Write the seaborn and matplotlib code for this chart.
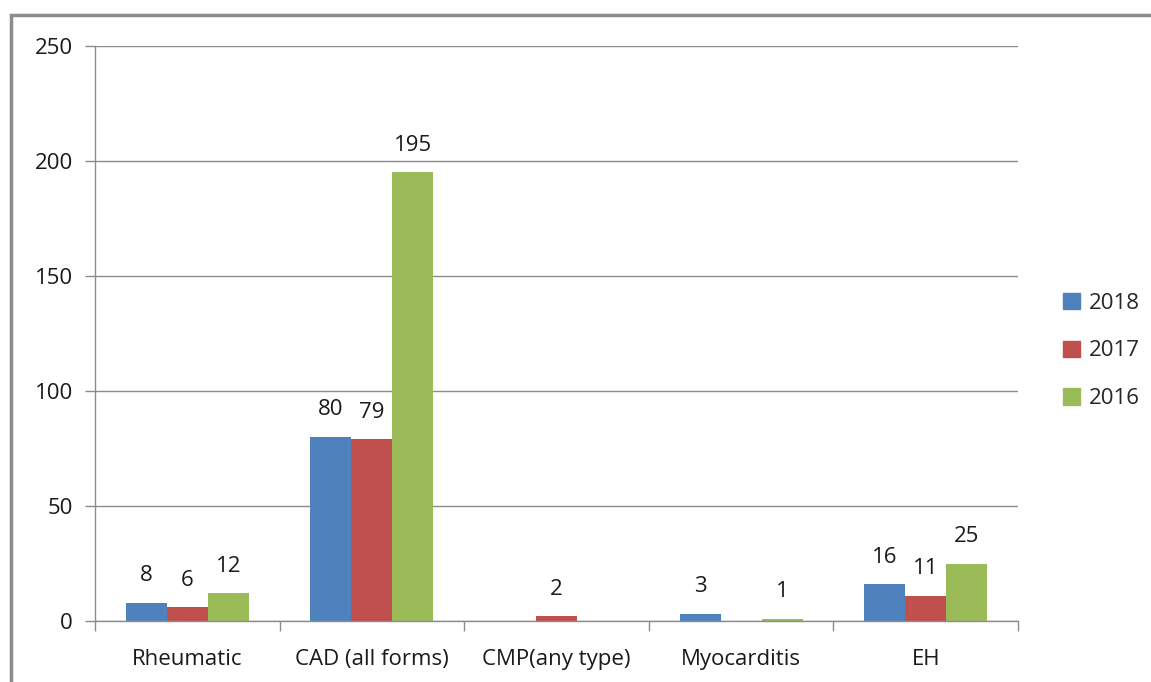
import matplotlib
matplotlib.use('Agg')
import matplotlib.pyplot as plt
import matplotlib.patches as mpatches
import pandas as pd
import seaborn as sns

# data
categories = ['Rheumatic', 'CAD (all forms)', 'CMP(any type)', 'Myocarditis', 'EH']
years = ['2018', '2017', '2016']
values_2018 = [8, 80, 0, 3, 16]
values_2017 = [6, 79, 2, 0, 11]
values_2016 = [12, 195, 0, 1, 25]
colors = ['#4F81BD', '#C0504D', '#9BBB59']

sns.set_style('white')
plt.rcParams['font.family'] = ['Open Sans', 'DejaVu Sans']

df = pd.DataFrame({
    'category': categories * 3,
    'year': [y for y in years for _ in categories],
    'value': values_2018 + values_2017 + values_2016,
})

fig = plt.figure(figsize=(11.51, 6.82), dpi=100)
ax = fig.add_axes([95 / 1151, 1 - 621 / 682, 923 / 1151, 575 / 682])

sns.barplot(data=df, x='category', y='value', hue='year', order=categories,
            hue_order=years, palette=colors, width=0.667, gap=0, saturation=1,
            errorbar=None, ax=ax, legend=False, linewidth=0)

for container in ax.containers:
    labels = [f'{int(v)}' if v > 0 else '' for v in container.datavalues]
    ax.bar_label(container, labels=labels, padding=12, fontsize=16, color='#1a1a1a')

ax.set_ylim(0, 250)
ax.set_xlim(-0.5, 4.5)
ax.set_yticks(range(0, 251, 50))
ax.yaxis.grid(True, color='#8c8c8c', linewidth=1)
ax.set_axisbelow(True)
ax.set_xlabel('')
ax.set_ylabel('')

for side in ['top', 'right']:
    ax.spines[side].set_visible(False)
for side in ['left', 'bottom']:
    ax.spines[side].set_color('#8c8c8c')
    ax.spines[side].set_linewidth(1)

ax.tick_params(axis='y', which='major', left=True, length=7, width=1, color='#8c8c8c',
               labelsize=16, pad=9)
ax.tick_params(axis='x', which='major', length=0, labelsize=16, pad=20)
ax.set_xticks([i - 0.5 for i in range(6)], minor=True)
ax.tick_params(axis='x', which='minor', bottom=True, length=7, width=1, color='#8c8c8c')
for t in ax.get_xticklabels() + ax.get_yticklabels():
    t.set_color('#1a1a1a')

handles = [mpatches.Patch(color=c, label=y) for c, y in zip(colors, years)]
fig.legend(handles=handles, loc='center left', bbox_to_anchor=(1043 / 1151, 1 - 351 / 682),
           frameon=False, fontsize=16, handlelength=0.75, handleheight=0.75,
           handletextpad=0.4, labelspacing=1.2)

# outer chart frame (only left and top edges visible in the crop)
frame = mpatches.Rectangle((11 / 1151, -0.1), 1.2, 1 - 15 / 682 + 0.1,
                           transform=fig.transFigure, fill=False,
                           edgecolor='#8c8c8c', linewidth=2.5)
fig.patches.append(frame)

fig.savefig('out.png', dpi=100)
